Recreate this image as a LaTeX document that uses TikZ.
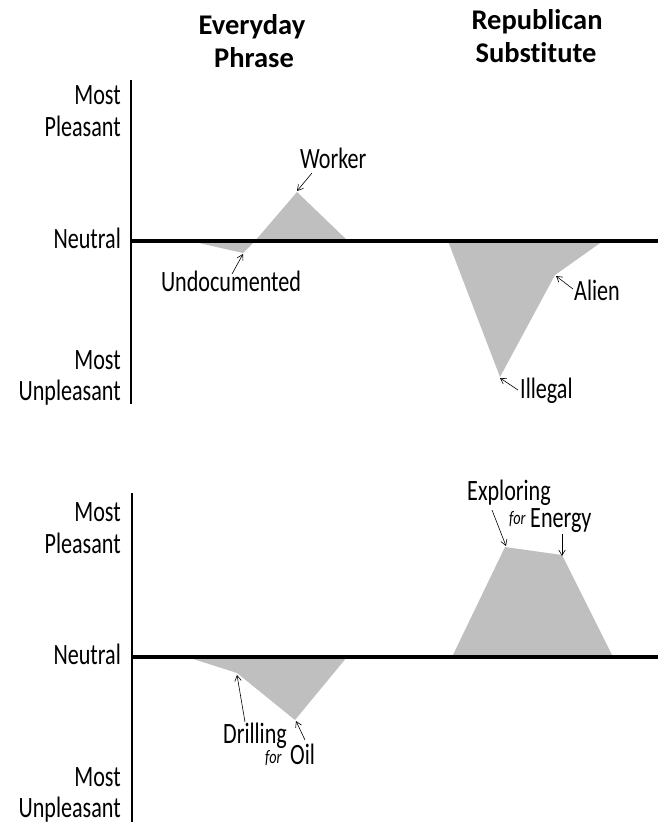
\documentclass[tikz,border=0pt]{standalone}
\usepackage{fontspec}
\setmainfont{Carlito}[Ligatures=NoCommon]
\newfontfamily\cond[FakeStretch=0.75]{Carlito}
\usetikzlibrary{arrows.meta}
\begin{document}
\begin{tikzpicture}[x=1pt,y=-1pt,
  lab/.style={font=\cond\fontsize{29.5}{32}\selectfont, inner sep=0, anchor=base west},
  axlab/.style={lab, anchor=base east},
  ttl/.style={font=\bfseries\fontsize{28.5}{33}\selectfont, inner sep=0, anchor=base},
  forw/.style={font=\cond\itshape\fontsize{19}{20}\selectfont, inner sep=0, anchor=base west},
  area/.style={fill=black!25, draw=none},
  vaxis/.style={line width=2.8pt},
  haxis/.style={line width=4.2pt},
  ptr/.style={-{Straight Barb[length=5.5pt,width=6.5pt]}, line width=0.6pt}]
\useasboundingbox (0,0) rectangle (658,824);

% titles
\node[ttl] (t1a) at (252,35) {Everyday};
\node[ttl] (t1b) at (254,68) {Phrase};
\node[ttl] (t2a) at (537,30) {Republican};
\node[ttl] (t2b) at (536,63) {Substitute};

% ---------- top chart ----------
\fill[area] (190,241) -- (243,253) -- (255,241) -- (297,192) -- (348,241) -- cycle;
\fill[area] (448,241) -- (500,377) -- (555,275) -- (603,241) -- cycle;
\draw[vaxis] (131,80) -- (131,404);
\draw[haxis] (130,241) -- (658,241);

\node[axlab] (a1) at (121,105) {Most};
\node[axlab] (a2) at (121,136) {Pleasant};
\node[axlab] (a3) at (121,248) {Neutral};
\node[axlab] (a4) at (121,369) {Most};
\node[axlab] (a5) at (121,400) {Unpleasant};

\coordinate (pU) at (243,254);
\coordinate (pW) at (297,191);
\coordinate (pA) at (556,276);
\coordinate (pI) at (500,378);
\coordinate (sU) at (232,274);
\coordinate (sW) at (312,173);
\coordinate (sA) at (573,289);
\coordinate (sI) at (518,390);

\node[lab] (worker) at (300,168) {Worker};
\node[lab, anchor=base] (undoc) at (231,291) {Undocumented};
\node[lab] (alien) at (574,300) {Alien};
\node[lab] (illegal) at (520,398) {Illegal};

\draw[ptr] (sW) -- (pW);
\draw[ptr] (sU) -- (pU);
\draw[ptr] (sA) -- (pA);
\draw[ptr] (sI) -- (pI);

% ---------- bottom chart ----------
\fill[area] (187,657) -- (237,673) -- (295,720) -- (347,657) -- cycle;
\fill[area] (452,657) -- (505,547) -- (562,555) -- (613,657) -- cycle;
\draw[vaxis] (132,493) -- (132,822);
\draw[haxis] (131,657) -- (658,657);

\node[axlab] (b1) at (121,521) {Most};
\node[axlab] (b2) at (121,553) {Pleasant};
\node[axlab] (b3) at (121,664) {Neutral};
\node[axlab] (b4) at (121,786) {Most};
\node[axlab] (b5) at (121,817) {Unpleasant};

\coordinate (pD) at (237,675);
\coordinate (pO) at (296,721);
\coordinate (pX) at (506,546);
\coordinate (pE) at (562,556);
\coordinate (sD) at (245,722);
\coordinate (sO) at (305,740);
\coordinate (sX) at (492,510);
\coordinate (sE) at (562,534);

\node[lab] (explor) at (467,500) {Exploring};
\node[forw] (for1) at (509,524) {for};
\node[lab] (energy) at (530,527) {Energy};
\node[lab] (drill) at (223,743) {Drilling};
\node[forw] (for2) at (265,763) {for};
\node[lab] (oil) at (290,764) {Oil};

\draw[ptr] (sD) -- (pD);
\draw[ptr] (sO) -- (pO);
\draw[ptr] (sX) -- (pX);
\draw[ptr] (sE) -- (pE);
\end{tikzpicture}
\end{document}
